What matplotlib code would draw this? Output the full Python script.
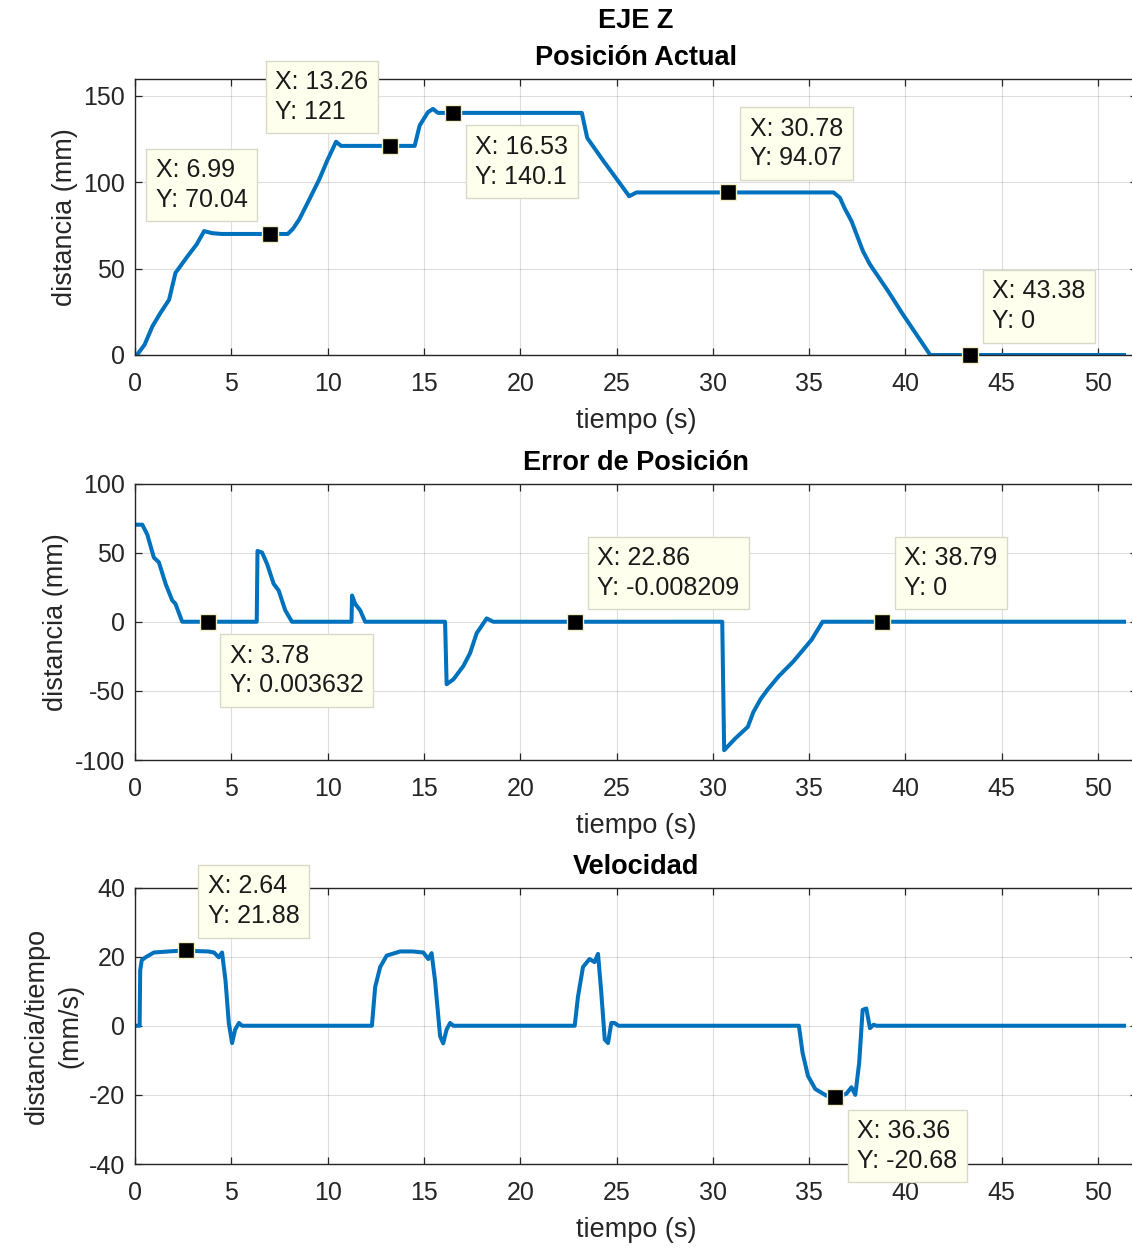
import matplotlib
matplotlib.use("Agg")
import matplotlib.pyplot as plt

plt.rcParams['font.family'] = ['Liberation Sans', 'DejaVu Sans']
plt.rcParams['axes.unicode_minus'] = False

# ---- Posición actual (mm) ----
t_pos = [0.1, 0.5, 0.9, 1.3, 1.77, 2.1, 2.72, 3.2, 3.59, 4.0, 4.5, 7.93, 8.2, 8.53,
         9.05, 9.57, 10.0, 10.44, 10.7, 13.26, 14.52, 14.78, 15.21, 15.47, 15.73,
         16.53, 23.2, 23.48, 24.34, 25.47, 25.66, 26.04, 30.78, 36.27, 36.6, 36.84,
         37.2, 37.8, 38.16, 39.1, 39.87, 41.29, 43.38, 51.35]
y_pos = [0.0, 6.0, 16.5, 24.0, 32.0, 47.5, 57.0, 64.0, 71.7, 70.5, 70.04, 70.04, 73.0,
         78.5, 90.0, 101.7, 113.0, 123.4, 121.0, 121.0, 121.0, 132.8, 140.5, 142.4,
         140.1, 140.1, 140.1, 125.6, 112.0, 94.8, 91.9, 94.07, 94.07, 94.07, 91.0,
         85.0, 77.5, 60.0, 52.4, 37.0, 23.5, 0.0, 0.0, 0.0]

# ---- Error de posición (mm) ----
t_err = [0.07, 0.38, 0.64, 0.98, 1.24, 1.59, 1.93, 2.1, 2.45, 3.78, 6.32, 6.36, 6.6,
         6.86, 7.2, 7.46, 7.8, 8.15, 11.24, 11.27, 11.43, 11.69, 11.95, 16.1, 16.18,
         16.53, 17.05, 17.4, 17.74, 18.26, 18.6, 22.86, 30.49, 30.59, 31.16, 31.82,
         32.1, 32.48, 32.86, 33.43, 34.19, 35.13, 35.7, 38.79, 51.35]
y_err = [70.2, 70.2, 63.0, 46.4, 43.0, 27.4, 15.5, 13.0, 0.0, 0.003632, 0.0, 51.2,
         50.0, 41.7, 27.4, 22.6, 8.3, 0.0, 0.0, 19.0, 13.0, 8.3, 0.0, 0.0, -45.2,
         -41.7, -32.0, -22.6, -8.3, 2.4, 0.0, -0.008209, 0.0, -92.9, -84.5, -76.0,
         -65.5, -56.0, -48.8, -39.3, -28.6, -13.0, 0.0, 0.0, 0.0]

# ---- Velocidad (mm/s) ----
t_vel = [0.0, 0.24, 0.27, 0.35, 0.55, 0.98, 1.5, 2.0, 2.37, 2.64, 3.2, 3.8, 4.1, 4.35,
         4.52, 4.7, 4.87, 5.04, 5.2, 5.4, 5.56, 12.3, 12.47, 12.73, 13.07, 13.77,
         14.4, 14.97, 15.23, 15.4, 15.58, 15.84, 16.0, 16.18, 16.36, 16.53, 22.83,
         23.0, 23.26, 23.6, 23.86, 24.04, 24.2, 24.39, 24.56, 24.73, 24.9, 25.1,
         34.47, 34.66, 34.94, 35.32, 35.89, 36.36, 36.93, 37.2, 37.4, 37.6, 37.78,
         37.97, 38.16, 38.35, 38.5, 51.35]
y_vel = [0.0, 0.0, 16.0, 19.0, 19.8, 21.2, 21.4, 21.6, 21.7, 21.88, 21.6, 21.5, 21.2,
         19.8, 21.2, 13.0, 0.8, -5.0, -1.1, 0.8, 0.0, 0.0, 11.2, 17.0, 20.3, 21.5,
         21.5, 21.2, 19.3, 21.0, 13.0, -3.0, -5.1, -1.1, 0.8, 0.0, 0.0, 8.4, 17.0,
         19.3, 18.4, 20.8, 10.3, -4.0, -5.0, 0.8, 0.8, 0.0, 0.0, -7.8, -14.5, -18.3,
         -20.2, -20.68, -19.7, -17.8, -20.0, -10.7, 4.6, 5.0, -0.7, 0.3, 0.0, 0.0]

# ---- data tips: x, y, label x, label y, side ----
tips_pos = [(6.99, 70.04, "6.99", "70.04", "ul"),
            (13.26, 121.0, "13.26", "121", "ul"),
            (16.53, 140.1, "16.53", "140.1", "lr"),
            (30.78, 94.07, "30.78", "94.07", "ur"),
            (43.38, 0.0, "43.38", "0", "ur")]
tips_err = [(3.78, 0.003632, "3.78", "0.003632", "lr"),
            (22.86, -0.008209, "22.86", "-0.008209", "ur"),
            (38.79, 0.0, "38.79", "0", "ur")]
tips_vel = [(2.64, 21.88, "2.64", "21.88", "ur"),
            (36.36, -20.68, "36.36", "-20.68", "lr")]

LINE = '#0072BD'
DARK = '#262626'
W, H = 1132, 1249

fig = plt.figure(figsize=(W / 100, H / 100), dpi=100)

left = 135 / W
width = 52 * 19.26 / W
height = 276.5 / H


def make_axes(bottom_px, ylim, yticks):
    ax = fig.add_axes([left, 1 - bottom_px / H, width, height])
    ax.set_xlim(0, 52)
    ax.set_ylim(*ylim)
    ax.set_xticks(range(0, 51, 5))
    ax.set_yticks(yticks)
    ax.grid(True, color=DARK, alpha=0.15, linewidth=0.8)
    ax.set_axisbelow(True)
    ax.tick_params(direction='in', length=5, width=0.9, color=DARK,
                   labelcolor=DARK, labelsize=18, top=True, right=True)
    ax.tick_params(axis='x', pad=12)
    ax.tick_params(axis='y', pad=7)
    for s in ax.spines.values():
        s.set_color(DARK)
        s.set_linewidth(1.0)
    ax.set_xlabel('tiempo (s)', fontsize=19.5, color=DARK, labelpad=9)
    return ax


def add_tips(ax, tips):
    off = 22
    for x, y, sx, sy, side in tips:
        ax.plot([x], [y], marker='s', markersize=11.5, color='black',
                markeredgecolor='#F2EFC8', markeredgewidth=1.0, zorder=5,
                clip_on=False)
        dx = -off if side[1] == 'l' else off
        dy = off if side[0] == 'u' else -off
        ax.annotate(f"X: {sx}\nY: {sy}", xy=(x, y), xytext=(dx, dy),
                    textcoords='offset pixels',
                    ha='right' if side[1] == 'l' else 'left',
                    va='bottom' if side[0] == 'u' else 'top',
                    multialignment='left',
                    fontsize=18, color='#1a1a1a', linespacing=1.3,
                    bbox=dict(boxstyle='square,pad=0.38', fc='#FFFFEE',
                              ec='#D9D9C8', lw=1.0),
                    zorder=6, annotation_clip=False)


ax1 = make_axes(355, (0, 160), [0, 50, 100, 150])
ax1.plot(t_pos, y_pos, color=LINE, linewidth=2.9, solid_joinstyle='round')
ax1.set_ylabel('distancia (mm)', fontsize=19.5, color=DARK)
ax1.set_title('EJE Z\nPosición Actual', fontsize=19.5, fontweight='bold',
              linespacing=1.55, pad=10)
add_tips(ax1, tips_pos)

ax2 = make_axes(760, (-100, 100), [-100, -50, 0, 50, 100])
ax2.plot(t_err, y_err, color=LINE, linewidth=2.9, solid_joinstyle='round')
ax2.set_ylabel('distancia (mm)', fontsize=19.5, color=DARK)
ax2.set_title('Error de Posición', fontsize=19.5, fontweight='bold', pad=10)
add_tips(ax2, tips_err)

ax3 = make_axes(1164, (-40, 40), [-40, -20, 0, 20, 40])
ax3.plot(t_vel, y_vel, color=LINE, linewidth=2.9, solid_joinstyle='round')
ax3.set_ylabel('distancia/tiempo\n(mm/s)', fontsize=19.5, color=DARK,
               linespacing=1.35)
ax3.set_title('Velocidad', fontsize=19.5, fontweight='bold', pad=10)
add_tips(ax3, tips_vel)

fig.savefig('out.png', dpi=100)
